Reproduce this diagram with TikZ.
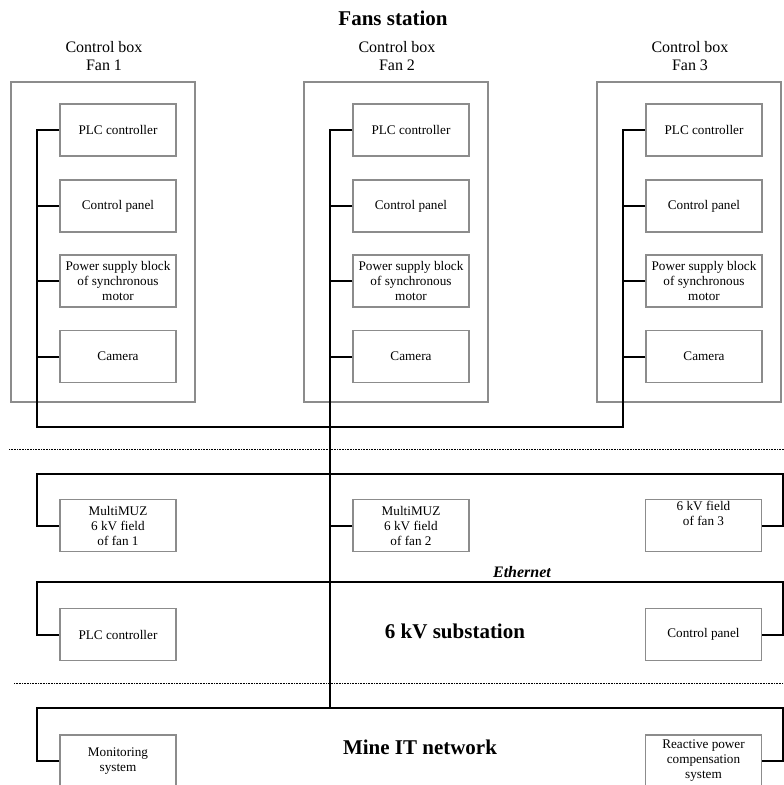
\documentclass[tikz,border=0pt]{standalone}
\usepackage{fontspec}
\setmainfont{Liberation Serif}
\usetikzlibrary{positioning}

\begin{document}
\begin{tikzpicture}[x=1pt,y=-1pt,
    devbox/.style={draw=black!45, line width=1.1pt, minimum width=116pt, minimum height=52pt,
                   inner sep=2pt, align=center, font=\fontsize{13.2}{15}\selectfont},
    cabinet/.style={draw=black!45, line width=1.1pt},
    busline/.style={line width=2pt, black},
    dotline/.style={line width=0.8pt, dash pattern=on 1pt off 0.6pt},
    boxtitle/.style={align=center, font=\fontsize{16}{18.3}\selectfont},
    zonelabel/.style={font=\fontsize{21}{25}\selectfont\bfseries}]
    \useasboundingbox (0,0) rectangle (784,785);

    \node [zonelabel] (fans) at (393,18) {Fans station};

    % control boxes of the fans
    \foreach \i/\x in {1/11,2/304,3/597}{%
        \node [boxtitle] (title\i) at (\x+93,56) {Control box\\Fan \i};
        \draw [cabinet] (\x,82) rectangle ++(184,320);
        \node [devbox] (plc\i) at (\x+107,130) {PLC controller};
        \node [devbox] (cp\i)  at (\x+107,206) {Control panel};
        \node [devbox] (ps\i)  at (\x+107,281) {Power supply block\\of synchronous\\motor};
        \node [devbox] (cam\i) at (\x+107,356.5) {Camera};
        \coordinate (bus\i) at (\x+26,427);
        \foreach \n in {cp,ps,cam}
            \draw [busline] (\n\i.west) -- (\n\i.west -| bus\i);}
    \draw [busline] (plc1.west) -| (bus1) -- (bus3) |- (plc3.west);

    \draw [dotline] (9,449) -- (784,449);

    % 6 kV substation
    \node [devbox] (muz1) at (118,525.5) {MultiMUZ\\6 kV field\\of fan 1};
    \node [devbox] (muz2) at (411,525.5) {MultiMUZ\\6 kV field\\of fan 2};
    \node [devbox] (muz3) at (703.5,525.5) {6 kV field\\of fan 3\\[9pt]\mbox{}};
    \node [devbox] (plcs) at (118,634.5) {PLC controller};
    \node [devbox] (cps)  at (703.5,634.5) {Control panel};
    \node [font=\fontsize{16}{18}\selectfont\bfseries\itshape] (eth) at (522,572) {Ethernet};
    \node [zonelabel] (sub) at (455,631) {6 kV substation};
    \coordinate (fieldl) at (37,474);
    \coordinate (fieldr) at (783,474);
    \coordinate (subl) at (37,582);
    \coordinate (subr) at (783,582);
    \draw [busline] (muz1.west) -| (fieldl) -- (fieldr) |- (muz3.east);
    \draw [busline] (plcs.west) -| (subl) -- (subr) |- (cps.east);

    \draw [dotline] (14,683) -- (784,683);

    % mine IT network
    \node [devbox] (mon) at (118,761) {Monitoring\\system};
    \node [devbox] (rps) at (703.5,761) {Reactive power\\compensation\\system};
    \node [zonelabel] (mine) at (420,747) {Mine IT network};
    \coordinate (itl) at (37,708);
    \coordinate (itr) at (783,708);
    \coordinate (itbus) at (330,708);
    \draw [busline] (mon.west) -| (itl) -- (itr) |- (rps.east);

    \draw [busline] (plc2.west) -| (itbus);
    \draw [busline] (muz2.west) -- (muz2.west -| itbus);
\end{tikzpicture}
\end{document}
